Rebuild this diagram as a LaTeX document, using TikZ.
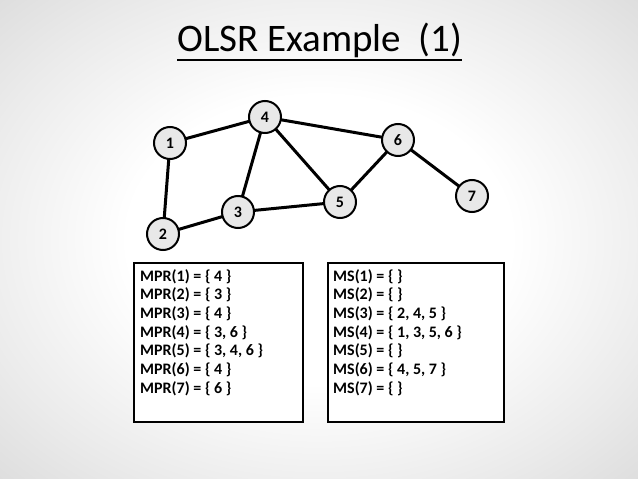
\documentclass[tikz,border=0pt]{standalone}
\usepackage{fontspec}
\setmainfont{Carlito}
\pgfdeclareradialshading{bgshade}{\pgfpoint{0bp}{0bp}}{%
  color(0bp)=(white); color(15bp)=(white); color(28bp)=(black!8);
  color(40bp)=(black!16); color(50bp)=(black!33); color(71bp)=(black!48)}
\tikzset{
  vtx/.style={circle, draw=black, line width=2pt, fill=black!9, minimum size=32pt, inner sep=0pt, font=\fontsize{16}{16}\selectfont\bfseries},
  edge/.style={line width=3pt, black},
  listbox/.style={draw=black, line width=1.6pt, fill=white},
  listline/.style={anchor=base west, inner sep=0pt, font=\fontsize{16}{16}\selectfont\bfseries},
}
\begin{document}
\begin{tikzpicture}[x=1pt,y=-1pt]
\useasboundingbox (0,0) rectangle (638,479);
\shade[shading=bgshade] (0,0) rectangle (638,479);
% title
\node[anchor=base west, inner sep=0pt, font=\fontsize{39}{39}\selectfont] (title) at (177,52) {OLSR Example\ \ (1)};
\draw[line width=2pt] (title.base west) ++(0,8) coordinate (ul1) -- (title.base east |- ul1);
% boxes
\node[listbox, minimum width=169pt, minimum height=159pt, anchor=north west] (boxL) at (133,262) {};
\node[listbox, minimum width=176pt, minimum height=159pt, anchor=north west] (boxR) at (327,262) {};
% edges drawn first
\coordinate (p1) at (170,143);
\coordinate (p2) at (163,234);
\coordinate (p3) at (238,212);
\coordinate (p4) at (265,117);
\coordinate (p5) at (340,202);
\coordinate (p6) at (398,140);
\coordinate (p7) at (472,196);
\draw[edge] (p1) -- (p4);
\draw[edge] (p1) -- (p2);
\draw[edge] (p2) -- (p3);
\draw[edge] (p3) -- (p4);
\draw[edge] (p3) -- (p5);
\draw[edge] (p4) -- (p5);
\draw[edge] (p4) -- (p6);
\draw[edge] (p6) -- (p5);
\draw[edge] (p6) -- (p7);
\node[vtx] (n1) at (p1) {1};
\node[vtx] (n2) at (p2) {2};
\node[vtx] (n3) at (p3) {3};
\node[vtx] (n4) at (p4) {4};
\node[vtx] (n5) at (p5) {5};
\node[vtx] (n6) at (p6) {6};
\node[vtx] (n7) at (p7) {7};
% left list
\node[listline] (l1) at (140,281) {MPR(1) = \{ 4 \}};
\node[listline] (l2) at (140,299.7) {MPR(2) = \{ 3 \}};
\node[listline] (l3) at (140,318.4) {MPR(3) = \{ 4 \}};
\node[listline] (l4) at (140,337.1) {MPR(4) = \{ 3, 6 \}};
\node[listline] (l5) at (140,355.8) {MPR(5) = \{ 3, 4, 6 \}};
\node[listline] (l6) at (140,374.5) {MPR(6) = \{ 4 \}};
\node[listline] (l7) at (140,393.2) {MPR(7) = \{ 6 \}};
% right list
\node[listline] (r1) at (333,281) {MS(1) = \{ \}};
\node[listline] (r2) at (333,299.7) {MS(2) = \{ \}};
\node[listline] (r3) at (333,318.4) {MS(3) = \{ 2, 4, 5 \}};
\node[listline] (r4) at (333,337.1) {MS(4) = \{ 1, 3, 5, 6 \}};
\node[listline] (r5) at (333,355.8) {MS(5) = \{ \}};
\node[listline] (r6) at (333,374.5) {MS(6) = \{ 4, 5, 7 \}};
\node[listline] (r7) at (333,393.2) {MS(7) = \{ \}};
\end{tikzpicture}
\end{document}
